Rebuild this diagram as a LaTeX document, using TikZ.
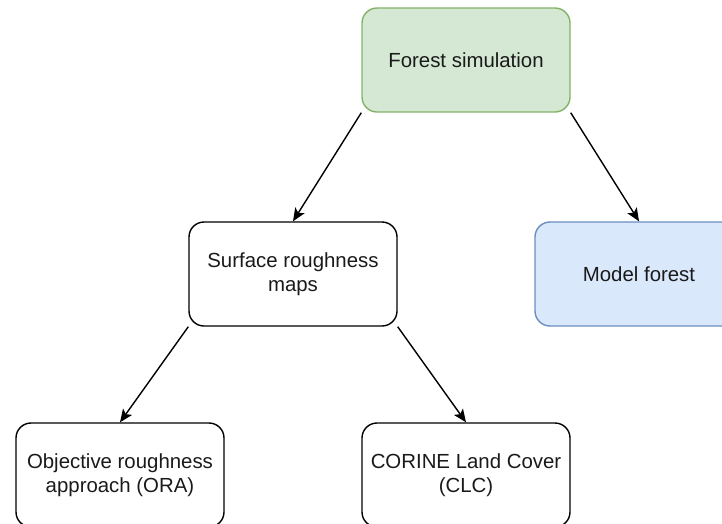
\documentclass[tikz,border=0pt]{standalone}
\usepackage{fontspec}
\setmainfont{Liberation Sans}
\usetikzlibrary{arrows.meta}
\definecolor{gfill}{HTML}{D5E8D4}
\definecolor{gline}{HTML}{82B366}
\definecolor{bfill}{HTML}{DAE8FC}
\definecolor{bline}{HTML}{6C8EBF}
\definecolor{txt}{HTML}{1A1A1A}
\begin{document}
\begin{tikzpicture}[x=1pt,y=-1pt,
  box/.style={draw=black, line width=1.4pt, rounded corners=15pt, minimum width=208pt, minimum height=104pt,
    align=center, text=txt, font=\fontsize{20.4}{24.5}\selectfont, inner sep=0pt},
  greenbox/.style={box, draw=gline, fill=gfill},
  bluebox/.style={box, draw=bline, fill=bfill},
  arr/.style={line width=1.4pt, -{Stealth[length=13pt,width=11pt,inset=3pt]}}]
\useasboundingbox (0,0) rectangle (722,523);
\clip (0,0) rectangle (722,523);
\node[greenbox] (fs) at (466,60) {Forest simulation};
\node[bluebox] (mf) at (639,274) {Model forest};
\node[box] (sr) at (293,274) {Surface roughness\\maps};
\node[box] (ora) at (120,475) {Objective roughness\\approach (ORA)};
\node[box] (clc) at (466,475) {CORINE Land Cover\\(CLC)};
\draw[arr] (fs.south west) -- (sr.north);
\draw[arr] (fs.south east) -- (mf.north);
\draw[arr] (sr.south west) -- (ora.north);
\draw[arr] (sr.south east) -- (clc.north);
\end{tikzpicture}
\end{document}
